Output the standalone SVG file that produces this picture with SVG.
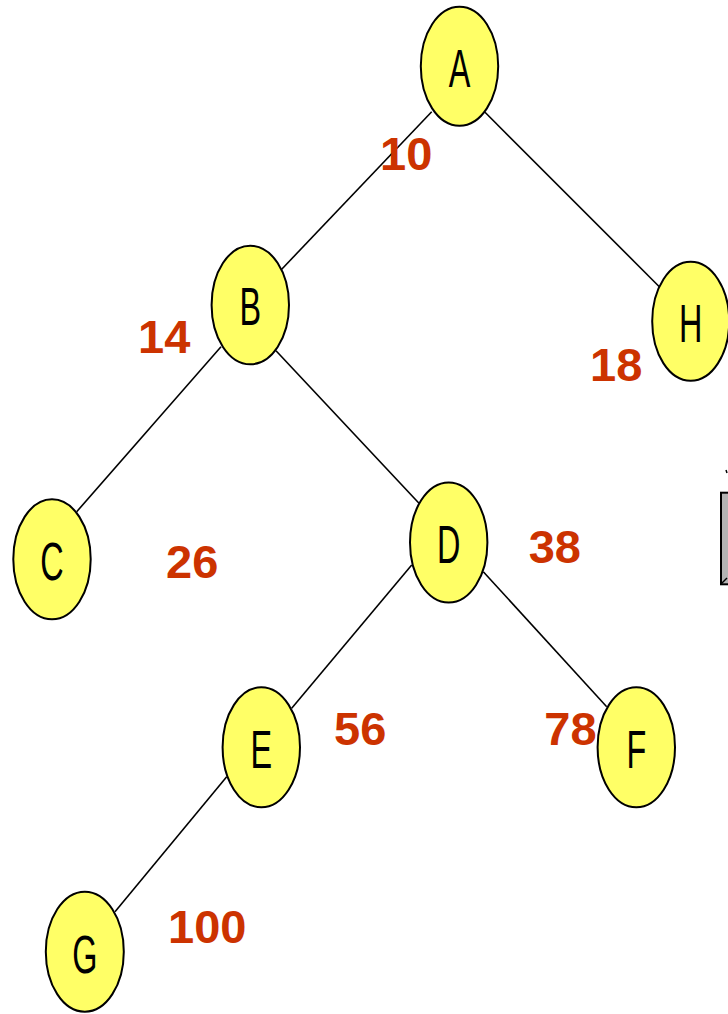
<svg xmlns="http://www.w3.org/2000/svg" width="728" height="1014" viewBox="0 0 728 1014">
<style>
.node ellipse{fill:#FFFF66;stroke:#000;stroke-width:2}
.node text{font-family:"Liberation Sans",Arial,sans-serif;font-size:54px;fill:#000;text-anchor:middle}
.edges line{stroke:#000;stroke-width:1.6}
.w{font-family:"Liberation Sans",Arial,sans-serif;font-weight:bold;font-size:47px;fill:#CC3300}
</style>
<rect width="728" height="1014" fill="#fff"/>
<g id="connectors" class="edges">
<line x1="431.7" y1="111.7" x2="281" y2="270"/>
<line x1="485" y1="112.3" x2="659.3" y2="286.7"/>
<line x1="221" y1="346.7" x2="76.7" y2="511.7"/>
<line x1="276" y1="350.7" x2="419" y2="503.3"/>
<line x1="411.7" y1="565" x2="291.7" y2="708.3"/>
<line x1="483.3" y1="571.7" x2="606.7" y2="706.7"/>
<line x1="226.7" y1="776.7" x2="115" y2="911.7"/>
</g>
<g id="node-A" class="node"><ellipse cx="459.5" cy="66.3" rx="38.7" ry="59.5"/><text transform="translate(459.5,87) scale(0.6,1)">A</text></g>
<g id="node-B" class="node"><ellipse cx="250.3" cy="305" rx="38.7" ry="59.3"/><text transform="translate(250.3,325) scale(0.6,1)">B</text></g>
<g id="node-H" class="node"><ellipse cx="690.7" cy="321.3" rx="38.5" ry="59.5"/><text transform="translate(690.7,342) scale(0.6,1)">H</text></g>
<g id="node-C" class="node"><ellipse cx="52" cy="559.3" rx="38.7" ry="60"/><text transform="translate(52,580) scale(0.6,1)">C</text></g>
<g id="node-D" class="node"><ellipse cx="448.7" cy="542.5" rx="38.7" ry="60"/><text transform="translate(448.7,563.3) scale(0.6,1)">D</text></g>
<g id="node-E" class="node"><ellipse cx="261.3" cy="747.3" rx="38.7" ry="60"/><text transform="translate(261.3,768) scale(0.6,1)">E</text></g>
<g id="node-F" class="node"><ellipse cx="636.3" cy="747.3" rx="38.7" ry="60"/><text transform="translate(636.3,768) scale(0.6,1)">F</text></g>
<g id="node-G" class="node"><ellipse cx="84.8" cy="951.7" rx="39" ry="60"/><text transform="translate(84.8,972.5) scale(0.6,1)">G</text></g>
<g id="weights">
<text class="w" x="380" y="170">10</text>
<text class="w" x="138" y="353.3">14</text>
<text class="w" x="590" y="381">18</text>
<text class="w" x="166" y="578.3">26</text>
<text class="w" x="528.7" y="563.3">38</text>
<text class="w" x="334" y="745">56</text>
<text class="w" x="544.3" y="745">78</text>
<text class="w" x="168" y="943.3">100</text>
</g>
<g id="box">
<rect x="721" y="492.7" width="10" height="91.6" fill="#B4B4B4" stroke="#000" stroke-width="2"/>
<line x1="721" y1="584" x2="727" y2="578" stroke="#000" stroke-width="1.5"/>
<line x1="726" y1="470" x2="727" y2="473" stroke="#000" stroke-width="1.5"/>
</g>
</svg>
